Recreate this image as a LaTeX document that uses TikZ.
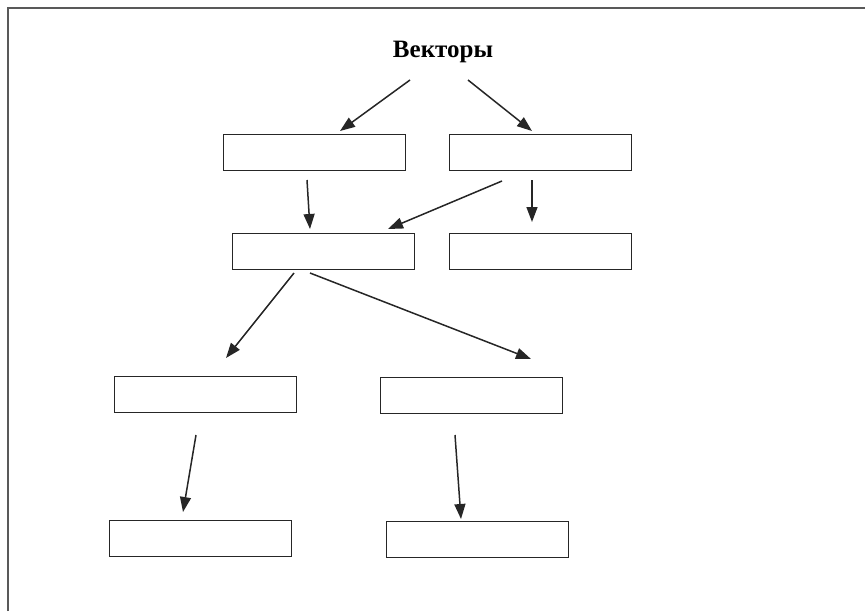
\documentclass[tikz,border=0pt]{standalone}
\usepackage{fontspec}
\setmainfont{Liberation Serif}
\usetikzlibrary{arrows.meta}
\begin{document}
\begin{tikzpicture}[x=1pt,y=-1pt,
  box/.style={draw=black!85,line width=1.4pt,minimum width=182pt,minimum height=36pt,inner sep=0pt,anchor=north west},
  conn/.style={draw=black!85,line width=1.5pt,-{Triangle[length=15pt,width=11pt]}},
  frameline/.style={draw=black!65,line width=2.2pt}]
\useasboundingbox (0,0) rectangle (865,611);
\draw[frameline] (8,611) -- (8,8) -- (865,8);
\node[font=\bfseries\fontsize{25}{29}\selectfont] (t) at (443,52) {Векторы};
\node[box] (A) at (223,134) {};
\node[box] (B) at (449,134) {};
\node[box] (C) at (232,233) {};
\node[box] (D) at (449,233) {};
\node[box] (E) at (114,376) {};
\node[box] (F) at (380,377) {};
\node[box] (G) at (109,520) {};
\node[box] (H) at (386,521) {};
% arrow end points
\coordinate (t1) at (410,80); \coordinate (a1) at (340,131);
\coordinate (t2) at (468,80); \coordinate (b1) at (532,131);
\coordinate (a2) at (307,180); \coordinate (c1) at (310,229);
\coordinate (b2) at (502,181); \coordinate (c2) at (388,229);
\coordinate (b3) at (532,180); \coordinate (d1) at (532,222);
\coordinate (c3) at (294,273); \coordinate (e1) at (226,358);
\coordinate (c4) at (310,273); \coordinate (f1) at (531,359);
\coordinate (e2) at (196,435); \coordinate (g1) at (183,512);
\coordinate (f2) at (455,435); \coordinate (h1) at (461,519);
\draw[conn] (t1) -- (a1);
\draw[conn] (t2) -- (b1);
\draw[conn] (a2) -- (c1);
\draw[conn] (b2) -- (c2);
\draw[conn] (b3) -- (d1);
\draw[conn] (c3) -- (e1);
\draw[conn] (c4) -- (f1);
\draw[conn] (e2) -- (g1);
\draw[conn] (f2) -- (h1);
\end{tikzpicture}
\end{document}
